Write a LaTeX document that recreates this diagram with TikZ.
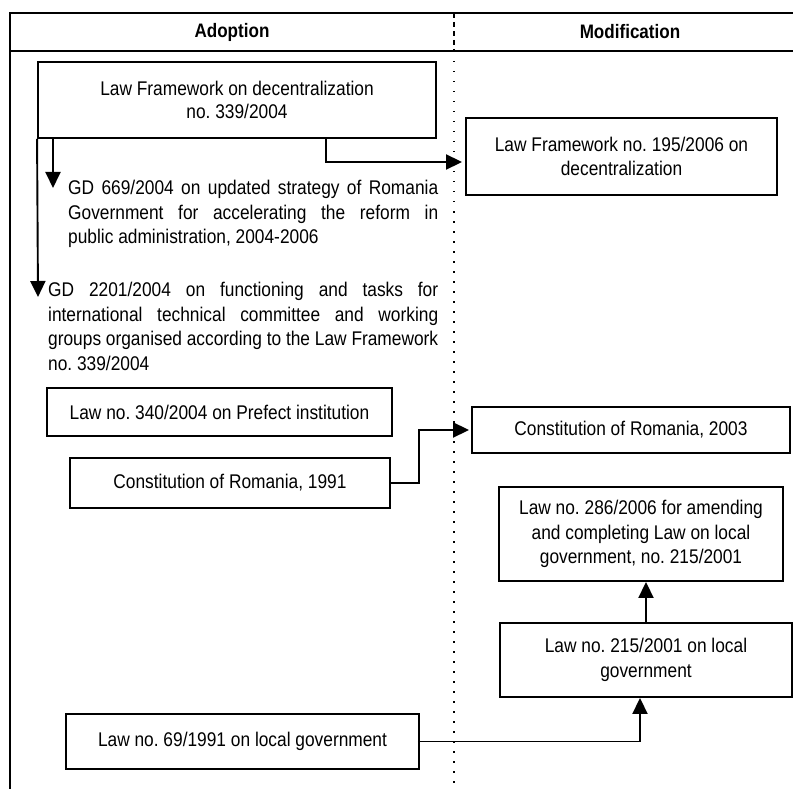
\documentclass[tikz,border=0pt]{standalone}
\usepackage{fontspec}
\setmainfont{Liberation Sans}[FakeStretch=0.875]
\usetikzlibrary{arrows.meta}
\frenchspacing
\begin{document}
\begin{tikzpicture}[x=1pt,y=-1pt,
  font=\fontsize{19.8}{24.5}\selectfont,
  frame/.style={line width=2.2pt},
  head/.style={font=\fontsize{19.5}{22}\selectfont\bfseries, inner sep=0pt},
  doc/.style={draw, line width=1.9pt, inner sep=0pt, align=center},
  para/.style={inner sep=0pt, anchor=north west, align=justify},
  link/.style={line width=1.9pt, -{Triangle[length=16pt,width=15pt]}},
  split/.style={line width=1.5pt, dash pattern=on 1.5pt off 8.5pt},
  splithead/.style={line width=1.8pt, dash pattern=on 5pt off 4pt}]
\useasboundingbox (0,0) rectangle (793,789);

% table frame and column headings
\draw[frame] (10,789) -- (10,13) -- (793,13);
\draw[frame] (10,51) -- (793,51);
\draw[splithead] (454,13) -- (454,51);
\draw[split] (454,51) -- (454,789);
\node[head] (hadopt) at (232,32) {Adoption};
\node[head] (hmod) at (630,32) {Modification};

% documents
\node[doc, minimum width=398pt, minimum height=76pt] (b1) at (237,100)
  {Law Framework on decentralization\\[-1pt]no. 339/2004};
\node[doc, minimum width=311pt, minimum height=77pt] (b2) at (621.5,156.5)
  {Law Framework no. 195/2006 on\\decentralization};
\node[para, text width=370pt] (g1) at (68,180)
  {GD 669/2004 on updated strategy of Romania\linebreak
   Government for accelerating the reform in\linebreak
   public administration, 2004-2006\par};
\node[para, text width=390pt] (g2) at (48,282)
  {GD 2201/2004 on functioning and tasks for\linebreak
   international technical committee and working\linebreak
   groups organised according to the Law Framework\linebreak
   no. 339/2004\par};
\node[doc, minimum width=345pt, minimum height=48pt] (b3) at (219.5,412)
  {Law no. 340/2004 on Prefect institution};
\node[doc, minimum width=320pt, minimum height=50pt] (b4) at (230,483)
  {Constitution of Romania, 1991};
\node[doc, minimum width=318pt, minimum height=46pt] (b5) at (631,430)
  {Constitution of Romania, 2003};
\node[doc, minimum width=284pt, minimum height=94pt] (b6) at (641,534)
  {Law no. 286/2006 for amending\\and completing Law on local\\government, no. 215/2001};
\node[doc, minimum width=292pt, minimum height=74pt] (b7) at (646,660)
  {Law no. 215/2001 on local\\government};
\node[doc, minimum width=353pt, minimum height=55pt] (b8) at (242.5,741.5)
  {Law no. 69/1991 on local government};

% connectors
\coordinate (t1) at (53,188);
\coordinate (t2) at (38,297);
\draw[link] (b1.south -| t1) -- (t1);
\draw[link] (b1.south west) -- (t2);
\draw[link, shorten >=3pt] ([xshift=89pt]b1.south) |- ([yshift=-5.5pt]b2.west);
\draw[link, shorten >=2pt] (b4.east) -- ++(28,0) |- (b5.west);
\draw[link] (b7.north) -- (b7.north |- b6.south);
\draw[link] ([xshift=-2pt]b8.east) -| ([xshift=-6pt]b7.south);
\end{tikzpicture}
\end{document}
